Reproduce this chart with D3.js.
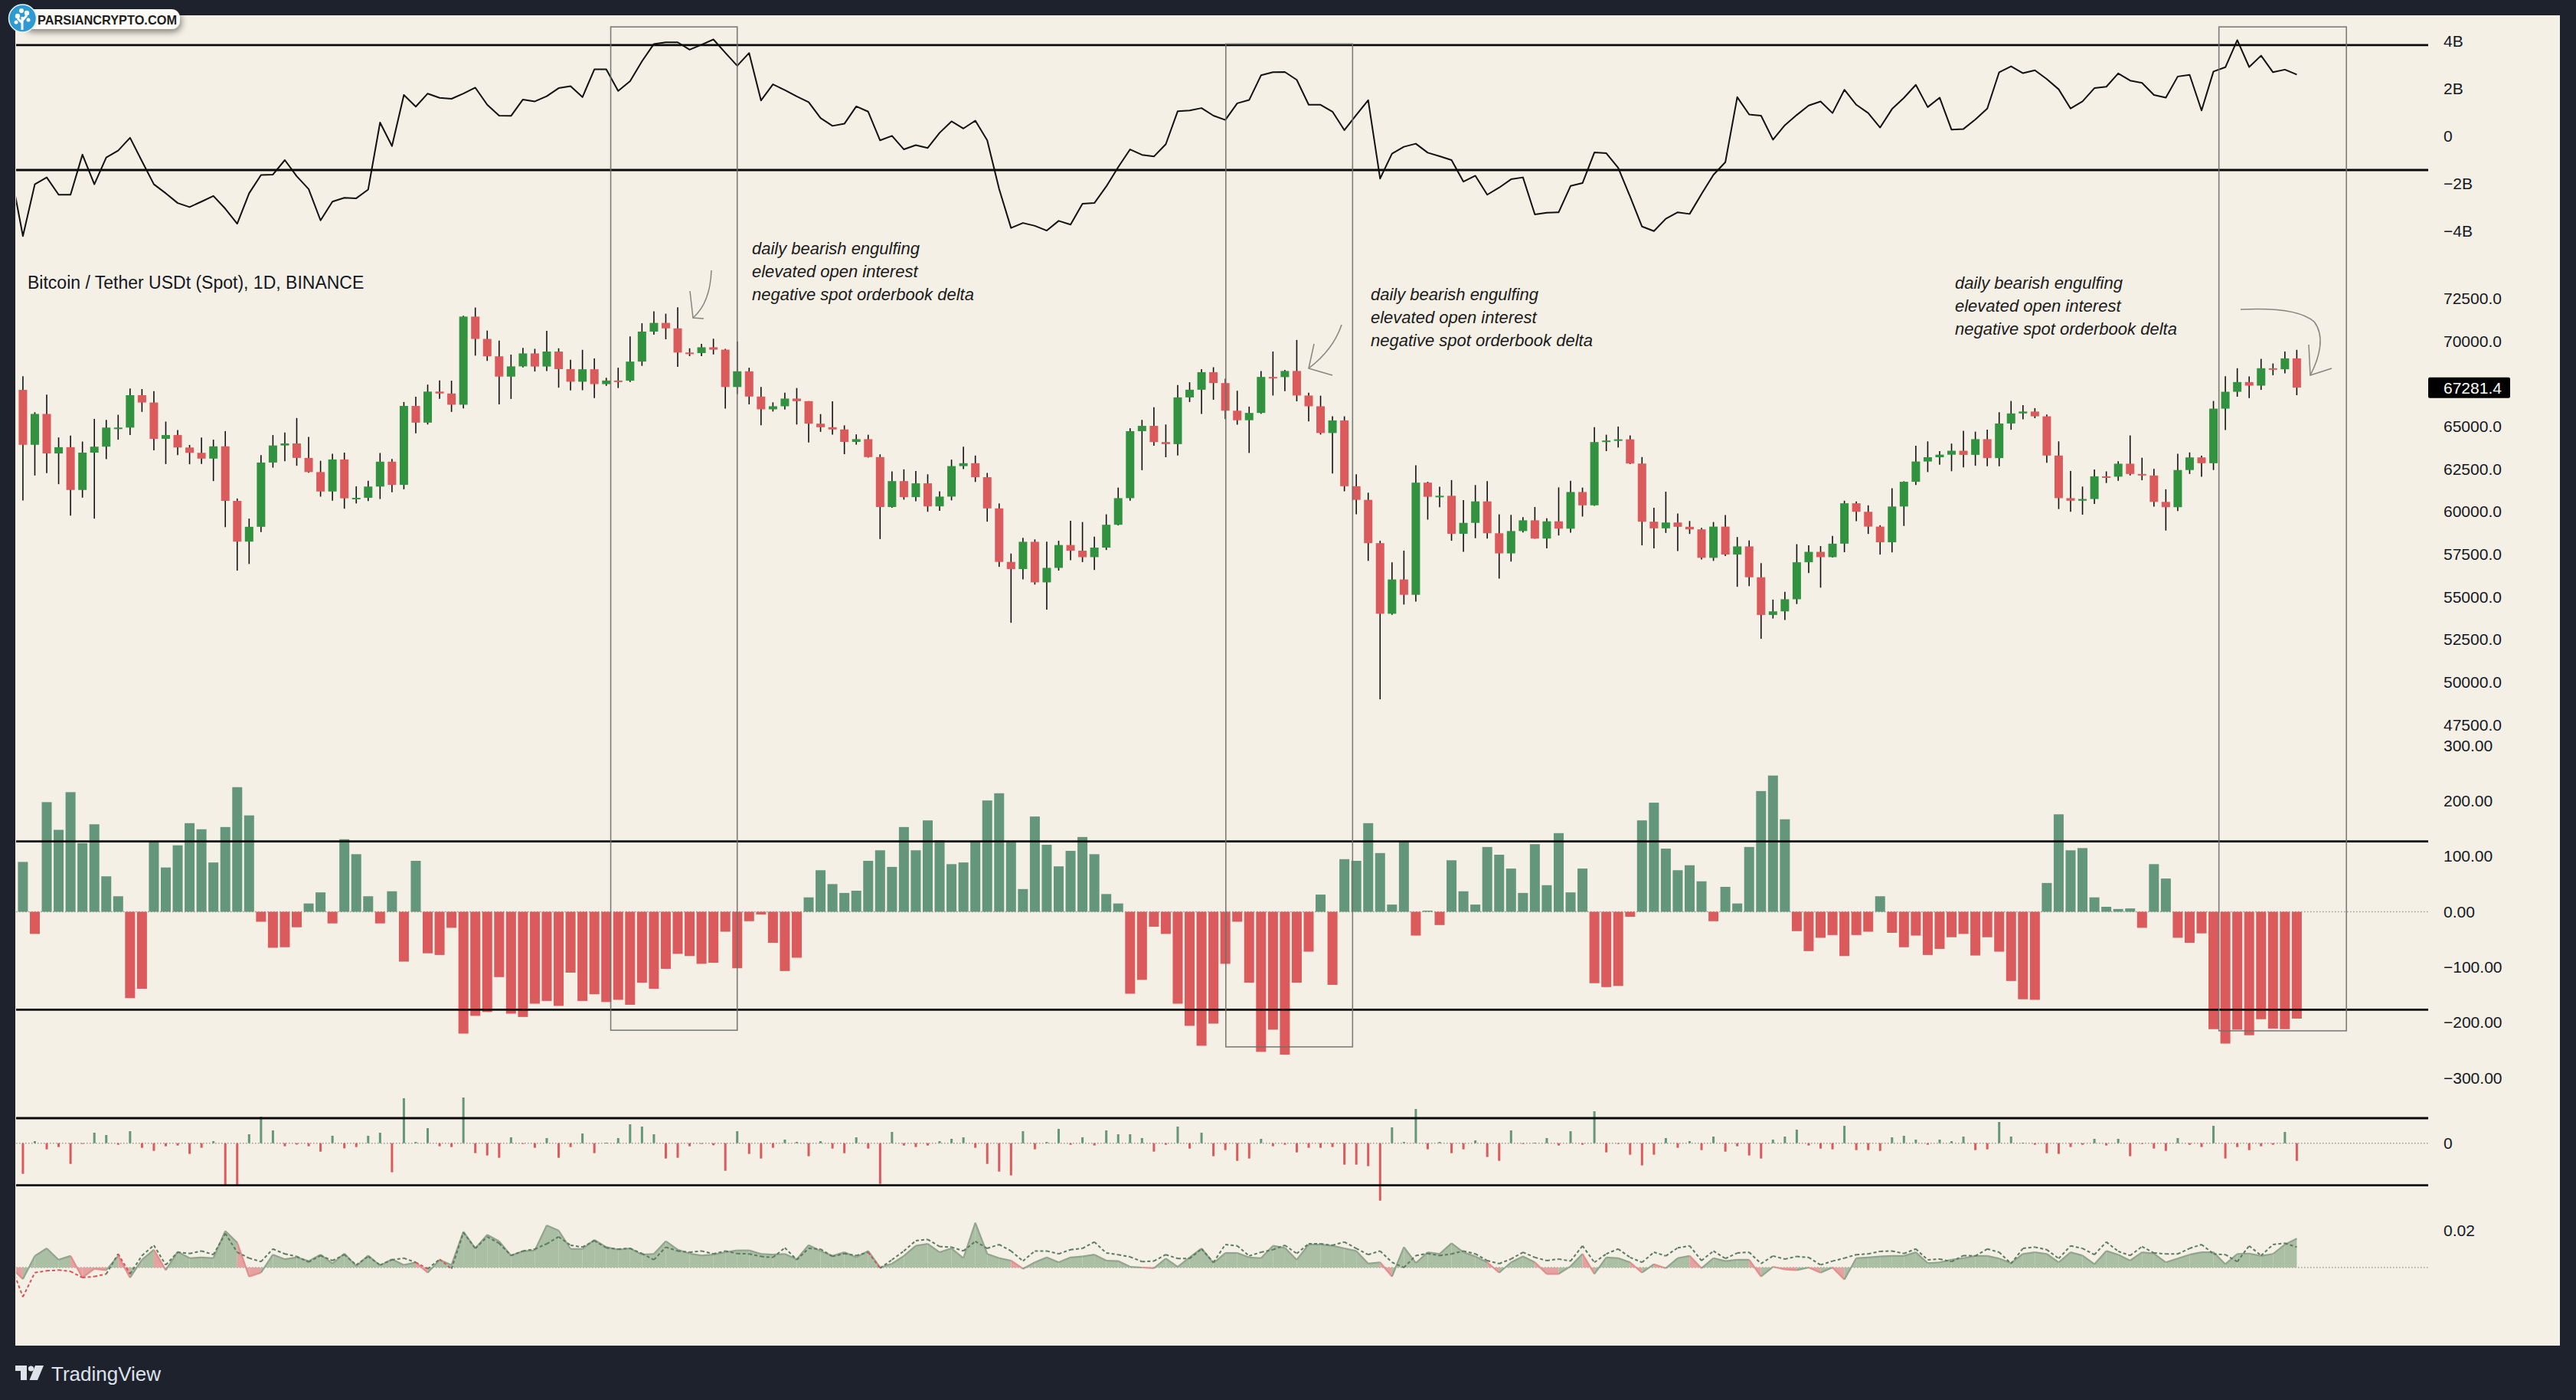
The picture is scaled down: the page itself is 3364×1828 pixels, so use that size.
<!DOCTYPE html>
<html><head><meta charset="utf-8">
<script src="https://cdn.jsdelivr.net/npm/d3@7/dist/d3.min.js"></script>
<style>html,body{margin:0;padding:0;background:#1e222d;overflow:hidden}svg{display:block}</style>
</head><body>
<svg id="chart" width="3364" height="1828"></svg>
<script>
// ---------------- DATA (daily, 2024-04-13 .. 2024-10-21) ----------------
const startDate = "2024-04-13", endDate = "2024-10-21";
const lineStartDate = "2024-04-12"; // indicator lines carry one extra (clipped) day on the left
const open = [67150,63930,65740,63420,63790,61280,63470,63820,64940,64940,66840,66410,64280,64500,63770,63460,63120,63840,
60640,58250,59120,62890,63890,64010,63160,62330,61190,63070,60790,60820,61480,62940,61580,66210,65230,67050,66940,66280,71450,70140,69120,67930,68530,69290,68520,69400,68370,67630,68360,
67490,67700,67690,68810,70570,71080,70760,69340,69310,69650,69510,67320,68240,66760,66010,66190,66640,66490,65170,64960,64830,64100,64260,63210,60280,61800,60860,61670,60320,60890,
62680,62850,62030,60200,57060,56640,58240,55860,56710,58050,57720,57340,57900,59240,60800,64730,65040,64090,63970,66710,67160,68190,67550,65930,65370,65800,67910,67900,68260,66820,66190,
64620,65360,61500,60700,58160,54020,56030,55130,61710,60880,60940,58710,59350,60610,58740,57560,58870,59500,58430,59440,59010,61160,60380,64090,64180,64250,62830,59420,59030,59370,59120,
58970,57300,59130,57490,57970,56160,53950,54160,54870,57040,57650,57340,58130,60500,60000,59130,58210,60310,61760,62950,63200,63350,63580,63340,64260,63150,65180,65770,65880,65600,
63300,60800,60650,60750,62080,62060,62820,62220,62130,60580,60270,62450,63190,62850,66050,67040,67610,67400,68420,68360,69000];
const high = [67950,65840,66870,64360,64470,64120,65450,65390,65690,67230,67200,67080,65290,64790,63920,64360,64230,64730,
60780,59600,63320,64500,64650,65500,64390,62990,63400,63470,61490,61820,63450,63100,66440,66750,67460,67700,67690,71500,71980,70630,70040,69220,69610,69560,70610,69590,68920,69500,69000,
67860,68450,70290,71060,71760,71620,71990,69590,69850,70150,69560,69990,68450,67320,66420,66990,67260,66490,65730,66480,65070,64540,64520,63370,62370,62490,62390,62200,61200,63060,
63820,63300,62280,60490,57550,58470,58380,58250,58300,59470,59400,58540,59850,61420,64900,65390,66130,65120,67440,67600,68370,68480,67810,67100,66170,68250,69400,68320,70080,66990,66810,
65600,65600,62200,61120,58300,57040,57720,62730,61760,61470,61860,60680,61570,61800,59850,59820,59690,60280,59620,61430,61820,61420,64960,64520,65000,64480,63210,60240,61180,59900,59460,
59060,59400,59810,58520,58320,56990,54850,55300,58100,58040,57990,58580,60650,60610,60380,59210,61380,61790,63870,64130,63560,64000,64750,64700,64820,65840,66500,66260,66080,65700,
64130,62390,61480,62480,62370,62970,64480,63170,62520,61320,63400,63480,63290,66500,67950,68420,67940,68970,68700,69400,69500];
const low = [60660,62130,62270,61620,59770,60830,59600,63090,64230,64500,65860,63600,62800,63320,62790,62810,61800,59100,
56550,56940,58810,62590,62960,62700,62290,60890,60650,60180,60490,60630,60750,61150,61320,64600,65120,66630,65860,66060,69160,68850,66300,66620,68470,68230,68260,67280,67120,67130,66670,
67390,67260,67610,68560,70390,70120,68500,69130,69130,69230,66050,66900,66300,65080,65880,66000,65120,64060,64690,64530,63380,63940,63180,58400,60240,60710,60620,60000,60060,60670,
62500,61750,59420,56770,53490,56030,55730,54260,56550,57160,57050,56590,57760,59200,60650,62440,63880,63200,63300,66440,65740,66570,65440,65110,63450,65750,66820,67070,66480,65300,64530,
62250,61200,59850,57120,49000,53960,54560,54730,59540,60270,58300,57650,58450,58430,56080,57080,58790,58420,57860,58610,58780,59720,60350,63560,63770,62800,58030,57860,58760,57700,58700,
57200,57120,57410,55600,55640,52550,53740,53650,54590,56410,55550,57320,57630,59450,58700,57490,57620,59170,61570,62330,62760,62380,62600,62700,62670,62670,64810,65420,65490,62870,
60160,60000,59830,60460,61690,61820,62130,61850,60300,58900,60050,62220,62050,62450,64800,66750,66670,67150,68010,68120,66840];
const close = [63930,65740,63420,63790,61280,63470,63820,64940,64940,66840,66410,64280,64500,63770,63460,63120,63840,60640,
58250,59120,62890,63890,64010,63160,62330,61190,63070,60790,60820,61480,62940,61580,66210,65230,67050,66940,66280,71450,70140,69120,67930,68530,69290,68520,69400,68370,67630,68360,67490,
67700,67690,68810,70570,71080,70760,69340,69310,69650,69510,67320,68240,66760,66010,66190,66640,66490,65170,64960,64830,64100,64260,63210,60280,61800,60860,61670,60320,60890,62680,
62850,62030,60200,57060,56640,58240,55860,56710,58050,57720,57340,57900,59240,60800,64730,65040,64090,63970,66710,67160,68190,67550,65930,65370,65800,67910,67900,68260,66820,66190,64620,
65360,61500,60700,58160,54020,56030,55130,61710,60880,60940,58710,59350,60610,58740,57560,58870,59500,58430,59440,59010,61160,60380,64090,64180,64250,62830,59420,59030,59370,59120,58970,
57300,59130,57490,57970,56160,53950,54160,54870,57040,57650,57340,58130,60500,60000,59130,58210,60310,61760,62950,63200,63350,63580,63340,64260,63150,65180,65770,65880,65600,63300,
60800,60650,60750,62080,62060,62820,62220,62130,60580,60270,62450,63190,62850,66050,67040,67610,67400,68420,68360,69000,67281.4];

// top pane: cumulative spot orderbook delta line (billions), starts 2024-04-12
const obLine = [-1.55,-4.20,-2.02,-1.73,-2.46,-2.46,-0.77,-2.02,-0.89,-0.60,-0.06,-1.05,-2.02,-2.40,-2.81,-2.98,-2.75,-2.51,-3.05,-3.68,-2.40,-1.63,-1.61,-1.00,-1.68,-2.22,-3.54,-2.75,-2.59,-2.61,-2.24,0.58,-0.41,1.74,1.25,1.80,1.62,1.58,1.80,2.05,1.33,0.87,0.86,1.55,1.47,1.69,2.03,2.11,1.65,2.82,2.82,1.91,2.32,3.16,3.89,3.96,3.96,3.65,3.86,4.08,3.52,2.97,3.51,1.51,2.19,1.95,1.68,1.44,0.77,0.44,
0.53,1.26,1.04,-0.17,0.02,-0.55,-0.37,-0.49,0.15,0.63,0.33,0.66,-0.17,-2.22,-3.86,-3.65,-3.77,-3.97,-3.56,-3.72,-2.84,-2.81,-2.11,-1.30,-0.55,-0.78,-0.85,-0.33,1.06,1.09,1.19,0.87,0.69,1.39,1.53,2.57,2.70,2.71,2.38,1.33,1.33,1.04,0.26,0.90,1.52,-1.78,-0.73,-0.44,-0.31,-0.69,-0.84,-1.00,-1.91,-1.66,-2.46,-2.16,-1.81,-1.73,-3.29,-3.22,-3.20,-2.09,-1.97,-0.68,-0.71,-1.33,-2.54,-3.80,-3.99,-3.47,-3.20,
-3.27,-2.43,-1.62,-1.09,1.65,0.92,0.87,-0.14,0.47,0.90,1.30,1.47,0.98,1.96,1.33,0.98,0.37,1.15,1.62,2.17,1.23,1.63,0.28,0.31,0.71,1.17,2.70,2.95,2.66,2.78,2.41,1.98,1.17,1.47,2.03,2.09,2.65,2.35,2.25,1.74,1.63,2.52,2.59,1.09,2.73,2.91,4.05,2.92,3.40,2.70,2.81,2.60];

// histogram pane: spot orderbook delta
const obHist = [90,-40,198,148,216,124,158,64,28,-156,-139,128,80,120,160,149,89,153,225,174,-18,-65,-64,-28,15,35,-21,131,104,28,-21,37,-90,92,-75,-78,-29,-220,-188,-181,-118,-184,-190,-166,-161,-170,-110,-161,-149,-163,-159,-168,-128,-139,-103,-76,-80,-94,-92,-36,-102,-17,-5,-56,-107,-83,26,75,50,
34,38,92,111,81,153,111,165,129,86,89,128,201,214,127,41,172,121,82,110,135,104,32,15,-148,-123,-27,-40,-166,-206,-242,-202,-94,-18,-128,-253,-213,-258,-128,-72,31,-132,95,92,160,106,13,127,-43,2,-24,93,37,13,117,103,78,34,122,48,142,35,78,-129,-136,-134,-9,165,197,114,75,
84,55,-17,45,15,117,218,246,167,-35,-71,-47,-42,-80,-42,-36,28,-38,-64,-43,-78,-67,-46,-40,-79,-46,-72,-125,-158,-159,52,176,111,115,26,9,5,6,-29,86,60,-47,-56,-39,-212,-238,-213,-223,-194,-211,-212,-193];

// small bars pane (open interest change, arbitrary units)
const oiBars = [-40,2.7,-8,-5,-27,-0.7,13.7,10.7,-2,15.7,-6,-10,-4,-3,-14,-6,2.7,-54.7,-56,11.7,34.7,16.7,-4,-1.7,-4,-11,9.7,-6.7,-5,9.7,13.7,-38,58.7,1.7,19.7,-4,-5,59.7,-13,-16,-19,7.7,-0.7,-6,6.7,-19,-5,12.7,-13,0.7,6.7,24.7,21.7,11.7,-20,-19,-4,-0.7,-2.7,-36,15.7,-14,-20,-6,4.7,1.7,-17,2.7,-7,
-13,7.7,-7,-53,14.7,-3,-5,-3,2.7,5.7,7.7,-6,-27,-37,-42,15.7,-8,1.7,18.7,-2,7.7,-3,16.7,11.7,11.7,6.7,-11,-2,21.7,-7,13.7,-17,-9,-23,-20,5.7,-4,-2,-12,-6,-6,-5,-28,-28,-30,-75,20.7,1.7,44.7,-8,1.7,-13,-8,3.7,-18,-23,16.7,-0.7,0.7,6.7,-3,15.7,-2,41.7,-12,-0.7,-15,-29,-15,6.7,-6,
2.7,-9,8.7,-11,-4,-16,-20,4.7,8.7,17.7,-3,-7,-8,22.7,-9,-9,-10,7.7,9.7,4.7,-2,4.7,2.7,8.7,-9,-8,27.7,8.7,0.7,-2,-13,-14,-5,-2,5.7,-3,5.7,-17,-0.7,-7,-10,6.7,-2,-5,22.7,-20,-5,-9,-4,-2,14.7,-23];

// bottom pane: funding rate (x1e-3) and its average (dashed), start 2024-04-12
const funding = [0,-6.3,6.3,10.4,4.2,6.3,-5.5,-0.7,-1.4,6.3,-5.5,4.2,9.7,-1.4,8.6,5.1,5.5,5.1,19.9,13.5,-4.9,-2.8,7.0,4.5,5.5,3.5,7.0,2.1,7.6,0.7,6.5,1.0,4.5,1.4,2.8,-2.8,4.2,1.4,19.5,10.4,17.8,14.3,6.5,8.8,9.3,22.9,20.1,10.1,10.1,15.0,11.1,9.7,10.4,7.0,7.4,14.3,9.7,7.6,6.5,7.0,8.3,9.3,9.3,7.4,7.0,7.4,4.5,12.2,9.0,6.3,
8.3,5.5,9.0,0,2.1,6.3,11.8,12.9,8.3,10.4,5.1,24.3,7.4,5.1,3.75,-0.7,2.8,5.5,2.8,5.5,6.0,7.0,3.75,3.5,0.4,0,-0.4,4.9,0.4,5.5,10.4,2.4,7.9,7.9,5.5,5.1,11.8,10.7,4.2,12.5,12.5,11.8,10.4,9.0,2.1,2.8,-4.9,11.1,2.4,8.3,7.4,13.2,8.3,6.0,2.8,-2.8,2.8,6.0,2.8,-3.5,-3.5,0.7,7.4,-3.5,5.5,5.1,2.8,-2.8,1.8,-0.4,5.1,
6.3,-0.4,5.1,3.5,4.2,4.2,-4.9,0.4,-1.0,-1.4,0,-2.8,0,-6.5,5.1,5.5,6.0,6.3,6.3,8.3,2.4,2.8,4.2,5.1,6.3,6.3,4.9,2.4,7.4,8.3,7.4,2.8,8.3,6.5,1.8,9.0,7.0,3.75,8.3,7.6,2.8,4.9,7.0,8.3,8.3,1.8,7.4,7.6,6.3,7.4,12.5,15.7];
const fundingAvg = [1.2,-16.0,-2.8,-1.8,-1.4,-2.1,-5.5,-4.9,-3.5,7.4,-3.5,6.5,12.1,1.4,8.3,7.6,9.0,7.0,18.5,8.3,5.1,3.2,10.1,7.4,6.0,3.0,6.5,3.75,7.0,1.4,6.0,1.4,4.2,5.1,2.8,-0.7,4.5,-0.7,19.0,10.4,16.7,13.2,6.5,9.0,10,12.9,16.7,12.1,11.1,14.6,10.7,10,10.4,7.6,4.2,11.1,9.0,8.3,9.0,7.4,9.0,7.6,7.4,6.0,5.5,10.7,4.2,10.4,10,6.0,
7.6,6.5,8.3,-0.4,4.2,9.0,14.6,15.3,11.4,11.1,9.0,14.2,10.4,12.5,9.0,3.5,9.0,9.0,7.4,9.7,10.4,13.9,7.9,7.0,5.8,3.2,3.5,7.0,4.9,4.9,10.1,2.8,12.5,11.8,6.3,8.3,9.7,12.1,7.6,12.9,12.9,12.1,13.9,10.4,7.0,9.0,2.8,0,6.5,7.6,6.5,7.4,9.0,7.4,3.75,2.1,4.6,8.3,5.5,3.75,4.6,3.5,11.8,2.8,7.4,10.1,5.5,2.8,8.3,6.3,10.7,
11.8,3.75,9.0,4.9,7.9,8.3,2.1,6.3,4.6,6.0,5.5,1.4,3.5,5.1,7.0,7.4,8.8,9.0,7.6,10.1,4.2,4.6,3.2,6.5,6.3,10.1,8.3,2.1,10.4,11.1,9.7,4.9,11.8,10.4,7.0,13.9,8.8,6.5,11.4,7.9,7.4,7.4,10.4,12.5,7.4,7.0,3.2,11.8,6.5,12.5,13.2,11.1];

// tick labels / levels
const monthTicks = ["2024-04-21","2024-05-01","2024-05-11","2024-05-21","2024-06-01","2024-06-11","2024-06-21","2024-07-01","2024-07-11","2024-07-21","2024-08-01","2024-08-11","2024-08-21","2024-09-01","2024-09-11","2024-09-21","2024-10-01","2024-10-11","2024-10-21","2024-11-01"];
const priceTicks = [72500,70000,65000,62500,60000,57500,55000,52500,50000,47500];
const topTicks = [4,2,0,-2,-4];
const histTicks = [300,200,100,0,-100,-200,-300];
const topLevels = [3.84,-1.42];
const histLevels = [127,-177];
const oiLevels = [32.7,-55];
const boxes = [
  {from:"2024-06-01T09:00:00Z", to:"2024-06-12T00:00:00Z", top:4.61, bottom:-214},
  {from:"2024-07-23T01:00:00Z", to:"2024-08-02T16:30:00Z", top:3.89, bottom:-244},
  {from:"2024-10-14T11:00:00Z", to:"2024-10-25T04:00:00Z", top:4.61, bottom:-215}
];
const noteLines = ["daily bearish engulfing","elevated open interest","negative spot orderbook delta"];
const title = "Bitcoin / Tether USDt (Spot), 1D, BINANCE";

// ---------------- LAYOUT ----------------
const FONT = "'Liberation Sans', Arial, Helvetica, sans-serif";
const PL = 21, PR = 3171;
const GREEN = "#31923f", RED = "#db5a5c", HG = "#63967a", HR = "#db5a5c";
const svg = d3.select('#chart');
const defs = svg.append('defs');
defs.append('clipPath').attr('id','clipPlot').append('rect').attr('x',PL).attr('y',20).attr('width',PR-PL).attr('height',1737);
const sh = defs.append('filter').attr('id','shadow').attr('x','-20%').attr('y','-50%').attr('width','140%').attr('height','220%');
sh.append('feDropShadow').attr('dx',2).attr('dy',4).attr('stdDeviation',4).attr('flood-color','#000').attr('flood-opacity',0.45);

svg.append('rect').attr('width',3364).attr('height',1828).attr('fill','#1e222d');
svg.append('rect').attr('x',20).attr('y',20).attr('width',3323).attr('height',1737).attr('fill','#f5f0e6');

const dates = d3.utcDay.range(new Date(startDate+"T00:00:00Z"), d3.utcDay.offset(new Date(endDate+"T00:00:00Z"),1));
const lineDates = d3.utcDay.range(new Date(lineStartDate+"T00:00:00Z"), d3.utcDay.offset(new Date(endDate+"T00:00:00Z"),1));
const x = d3.scaleUtc().domain([new Date("2024-04-21T00:00:00Z"), new Date("2024-11-01T00:00:00Z")]).range([154.3, 3170.4]);
const yTop = d3.scaleLinear().domain([-4,4]).range([302,54]);
const yPrice = d3.scaleLinear().domain([47500,72500]).range([946.5,390]);
const yHist = d3.scaleLinear().domain([-300,300]).range([1407.4,973.6]);
const yOi = d3.scaleLinear().domain([-60,60]).range([1552.7,1432.7]);
const yFund = d3.scaleLinear().domain([0,20]).range([1655,1607]);

const plot = svg.append('g').attr('clip-path','url(#clipPlot)');

// zero dotted lines
[[yHist,0],[yOi,0],[yFund,0]].forEach(([s,v])=>{
  plot.append('line').attr('x1',PL).attr('x2',PR).attr('y1',s(v)).attr('y2',s(v))
    .attr('stroke','#9b9b95').attr('stroke-width',1.5).attr('stroke-dasharray','1.5 2.5');
});

// ---- top pane line
plot.append('path').datum(obLine)
  .attr('d', d3.line().x((v,i)=>x(lineDates[i])).y(v=>yTop(v)))
  .attr('fill','none').attr('stroke','#111').attr('stroke-width',2).attr('stroke-linejoin','round');

// ---- candles
const candles = dates.map((d,i)=>({d,o:open[i],h:high[i],l:low[i],c:close[i]}));
const cg = plot.append('g');
cg.selectAll('line.wick').data(candles).join('line').attr('class','wick')
  .attr('x1',c=>x(c.d)).attr('x2',c=>x(c.d)).attr('y1',c=>yPrice(c.h)).attr('y2',c=>yPrice(c.l))
  .attr('stroke','#111').attr('stroke-width',1.6);
cg.selectAll('rect.body').data(candles).join('rect').attr('class','body')
  .attr('x',c=>x(c.d)-5.5).attr('width',11)
  .attr('y',c=>yPrice(Math.max(c.o,c.c)))
  .attr('height',c=>Math.max(2,Math.abs(yPrice(c.o)-yPrice(c.c))))
  .attr('fill',c=>c.c>=c.o?GREEN:RED);

// ---- histogram pane
plot.append('g').selectAll('rect').data(obHist).join('rect')
  .attr('x',(v,i)=>x(dates[i])-6.5).attr('width',13)
  .attr('y',v=>Math.min(yHist(0),yHist(v))).attr('height',v=>Math.abs(yHist(v)-yHist(0)))
  .attr('fill',v=>v>=0?HG:HR);

// ---- small bars pane
plot.append('g').selectAll('rect').data(oiBars).join('rect')
  .attr('x',(v,i)=>x(dates[i])-1.5).attr('width',3)
  .attr('y',v=>Math.min(yOi(0),yOi(v))).attr('height',v=>Math.max(1,Math.abs(yOi(v)-yOi(0))))
  .attr('fill',v=>v>=0?HG:HR);

// ---- funding pane
const fg = plot.append('g');
const segArea = d3.area().x(p=>x(p.d)).y0(yFund(0)).y1(p=>yFund(p.v));
const segLine = d3.line().x(p=>x(p.d)).y(p=>yFund(p.v));
for(let i=0;i<funding.length-1;i++){
  const seg=[{d:lineDates[i],v:funding[i]},{d:lineDates[i+1],v:funding[i+1]}];
  const pos = funding[i+1]>=0;
  fg.append('path').attr('d',segArea(seg)).attr('fill',pos?'#abbfa5':'#e6a2a0');
}
for(let i=0;i<funding.length-1;i++){
  const seg=[{d:lineDates[i],v:funding[i]},{d:lineDates[i+1],v:funding[i+1]}];
  const pos = funding[i+1]>=0;
  fg.append('path').attr('d',segLine(seg)).attr('fill','none').attr('stroke',pos?'#93a48e':'#e28e8c').attr('stroke-width',2.2);
}
for(let i=0;i<fundingAvg.length-1;i++){
  const seg=[{d:lineDates[i],v:fundingAvg[i]},{d:lineDates[i+1],v:fundingAvg[i+1]}];
  const pos = fundingAvg[i+1]>=0;
  fg.append('path').attr('d',segLine(seg)).attr('fill','none').attr('stroke',pos?'#5b7b61':'#d45658')
    .attr('stroke-width',2).attr('stroke-dasharray','4 3');
}

// ---- horizontal level lines
const levels = [...topLevels.map(v=>yTop(v)), ...histLevels.map(v=>yHist(v)), ...oiLevels.map(v=>yOi(v))];
plot.append('g').selectAll('line').data(levels).join('line')
  .attr('x1',PL).attr('x2',PR).attr('y1',d=>d).attr('y2',d=>d)
  .attr('stroke','#0a0a0a').attr('stroke-width',2.8);

// ---- boxes
plot.append('g').selectAll('rect').data(boxes).join('rect')
  .attr('x',b=>x(new Date(b.from))).attr('width',b=>x(new Date(b.to))-x(new Date(b.from)))
  .attr('y',b=>yTop(b.top)).attr('height',b=>yHist(b.bottom)-yTop(b.top))
  .attr('fill','none').attr('stroke','#6f6f6a').attr('stroke-width',1.6).attr('stroke-opacity',0.9);

// ---- annotations
const notes = [{x:982,y:324},{x:1790,y:384},{x:2553,y:369}];
const ng = svg.append('g').attr('font-family',FONT).attr('font-style','italic').attr('font-size',22).attr('fill','#1b1b1b');
notes.forEach(n=>{
  noteLines.forEach((t,k)=>{
    ng.append('text').attr('x',n.x).attr('y',n.y+k*30).attr('dy','0.35em').text(t);
  });
});
const arrows = [
  "M929,353 C928,380 920,402 905,415", "M901,380 L905,415 L919,416",
  "M1752,424 C1745,445 1730,465 1709,481", "M1716,449 L1709,481 L1740,490",
  "M2926,404 C2965,402 3005,405 3022,420 C3036,438 3030,465 3017,490", "M3015,450 L3017,490 L3045,481"
];
svg.append('g').selectAll('path').data(arrows).join('path').attr('d',d=>d)
  .attr('fill','none').attr('stroke','#85857f').attr('stroke-width',1.5);

// ---- title
svg.append('text').attr('x',36).attr('y',369).attr('dy','0.35em').attr('font-family',FONT)
  .attr('font-size',23).attr('fill','#131722').text(title);

// ---- right axes
function rightAxis(scale, ticks, fmt){
  const g = svg.append('g').attr('transform',`translate(${PR},0)`)
    .call(d3.axisRight(scale).tickValues(ticks).tickSize(0).tickPadding(20).tickFormat(fmt));
  g.select('.domain').remove();
  g.attr('font-family',FONT).attr('font-size',21);
  g.selectAll('text').attr('fill','#131722');
  return g;
}
rightAxis(yTop, topTicks, d=> d===0 ? '0' : d3.format('d')(d)+'B');
rightAxis(yPrice, priceTicks, d3.format('.1f'));
rightAxis(yHist, histTicks, d3.format('.2f'));
rightAxis(yOi, [0], d3.format('d'));
rightAxis(yFund, [20], d=>d3.format('.2f')(d/1000));

// last price label
const lastC = close[close.length-1];
svg.append('rect').attr('x',PR).attr('y',yPrice(lastC)-13.5).attr('width',107).attr('height',27).attr('rx',2).attr('fill','#000');
svg.append('text').attr('x',PR+20).attr('y',yPrice(lastC)).attr('dy','0.35em').attr('font-family',FONT)
  .attr('font-size',21).attr('fill','#fff').text(d3.format('.1f')(lastC));

// ---- time axis
defs.append('clipPath').attr('id','clipX').append('rect').attr('x',PL).attr('y',1690).attr('width',PR-PL).attr('height',70);
const gx = svg.append('g').attr('transform','translate(0,1726)').attr('clip-path','url(#clipX)')
  .call(d3.axisBottom(x).tickValues(monthTicks.map(s=>new Date(s+"T00:00:00Z"))).tickSize(0).tickPadding(0)
    .tickFormat(d=> d.getUTCDate()===1 ? d3.utcFormat('%b')(d) : d3.utcFormat('%-d')(d)));
gx.select('.domain').remove();
gx.attr('font-family',FONT).attr('font-size',21);
gx.selectAll('text').attr('fill','#131722').attr('font-weight',d=>d.getUTCDate()===1?'bold':'normal');

// ---- watermark logo
const lg = svg.append('g');
lg.append('rect').attr('x',30).attr('y',12).attr('width',205).attr('height',26).attr('rx',11)
  .attr('fill','#fbfaf6').attr('filter','url(#shadow)');
lg.append('circle').attr('cx',29.5).attr('cy',24).attr('r',18).attr('fill','#2d9ad3').attr('stroke','#e8f4fa').attr('stroke-width',1.5);
lg.append('path').attr('d','M29,39 L29,22 M29,30 L23,24 M29,27 L35,20').attr('stroke','#fff').attr('stroke-width',3).attr('fill','none');
[[23,21,3.2],[35,17,3.2],[28,14,3],[21,29,2.5],[37,26,2.5]].forEach(([cx,cy,r])=>lg.append('circle').attr('cx',cx).attr('cy',cy).attr('r',r).attr('fill','#fff'));
lg.append('text').attr('x',49).attr('y',25.5).attr('dy','0.36em').attr('font-family',"'Liberation Sans Narrow','Liberation Sans',Arial,sans-serif")
  .attr('font-weight','bold').attr('font-size',17).attr('fill','#1d1d1d').attr('textLength',182).attr('lengthAdjust','spacingAndGlyphs').text('PARSIANCRYPTO.COM');

// ---- TradingView footer
const tv = svg.append('g').attr('fill','#dfe2ea');
tv.append('path').attr('d','M20,1783 L35,1783 L35,1802 L27,1802 L27,1790 L20,1790 Z');
tv.append('circle').attr('cx',40.5).attr('cy',1787).attr('r',3.6);
tv.append('path').attr('d','M46,1783 L57,1783 L49,1802 L38.5,1802 Z');
tv.append('text').attr('x',67).attr('y',1794).attr('dy','0.35em').attr('font-family',FONT).attr('font-size',26).text('TradingView');
</script>
</body></html>
